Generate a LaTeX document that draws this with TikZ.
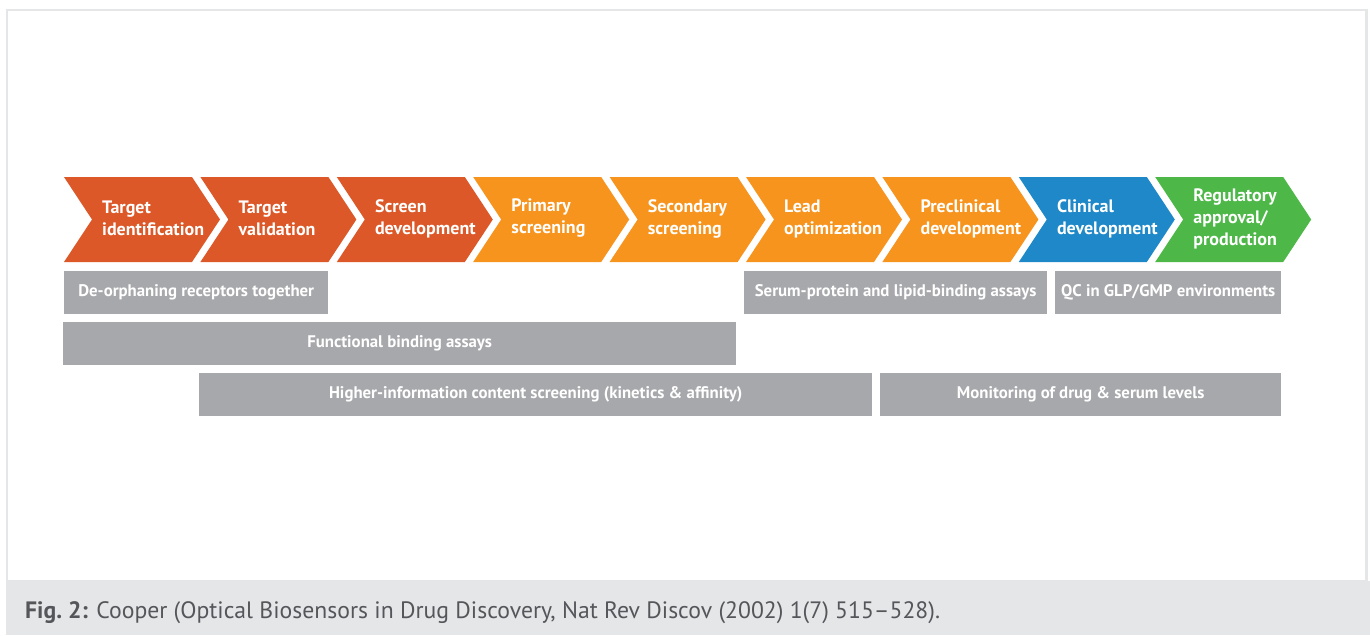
\documentclass[tikz,border=0pt]{standalone}
\usepackage{fontspec}
\setmainfont{PT Sans}
\usepackage{tikz}
\definecolor{DarkOrange}{HTML}{DC5828}
\definecolor{LightOrange}{HTML}{F7941E}
\definecolor{ClinBlue}{HTML}{1E88C8}
\definecolor{RegGreen}{HTML}{4DB848}
\definecolor{BarGray}{HTML}{A7A8AB}
\definecolor{Frame}{HTML}{E5E6E8}
\definecolor{CapGray}{HTML}{55565A}

\begin{document}
\begin{tikzpicture}[x=1pt, y=-1pt,
        stage/.style={anchor=west, align=left, text=white, inner sep=0pt, font=\bfseries\fontsize{18}{22}\selectfont},
        assay/.style={anchor=north west, fill=BarGray, text=white, inner sep=0pt, minimum height=43pt, font=\bfseries\fontsize{16.8}{20}\selectfont}]
        \useasboundingbox (0,0) rectangle (1370,635);

        % frame and caption band
        \draw[Frame, line width=2.5pt] (7,10) rectangle (1366.5,581);
        \fill[Frame] (6,581) rectangle (1370,635);
        \node[anchor=west, text=CapGray, inner sep=0pt, font=\fontsize{23.7}{26}\selectfont] (caption) at (25,613) {\textbf{Fig.~2:} Cooper (Optical Biosensors in Drug Discovery, Nat Rev Discov (2002) 1(7) 515--528).};

        % stages (chevrons)
        \foreach \x/\col/\lbl [count=\i] in {64/DarkOrange/{Target\\identification}, 200.4/DarkOrange/{Target\\validation}, 336.8/DarkOrange/{Screen\\development}, 473.2/LightOrange/{Primary\\screening}, 609.6/LightOrange/{Secondary\\screening}, 746/LightOrange/{Lead\\optimization}, 882.4/LightOrange/{Preclinical\\development}, 1018.8/ClinBlue/{Clinical\\development}, 1155.2/RegGreen/{Regulatory\\approval/\\production}}{
            \fill[\col] (\x,177) -- ++(128,0) -- ++(28,42.5) -- ++(-28,42.5) -- ++(-128,0) -- ++(28,-42.5) -- cycle;
            \node[stage] (s\i) at (\x+38,218.5) {\lbl};
        }

        % assays
        \node[assay, minimum width=264pt] (deorph) at (64,271) {De-orphaning receptors together};
        \node[assay, minimum width=303pt] (serum) at (744,271) {Serum-protein and lipid-binding assays};
        \node[assay, minimum width=226pt] (qc) at (1055,271) {QC in GLP/GMP environments};
        \node[assay, minimum width=673pt] (functional) at (63,322) {Functional binding assays};
        \node[assay, minimum width=673pt] (higher) at (199,373) {Higher-information content screening (kinetics \& affinity)};
        \node[assay, minimum width=401pt] (monitor) at (880,373) {Monitoring of drug \& serum levels};
\end{tikzpicture}
\end{document}
